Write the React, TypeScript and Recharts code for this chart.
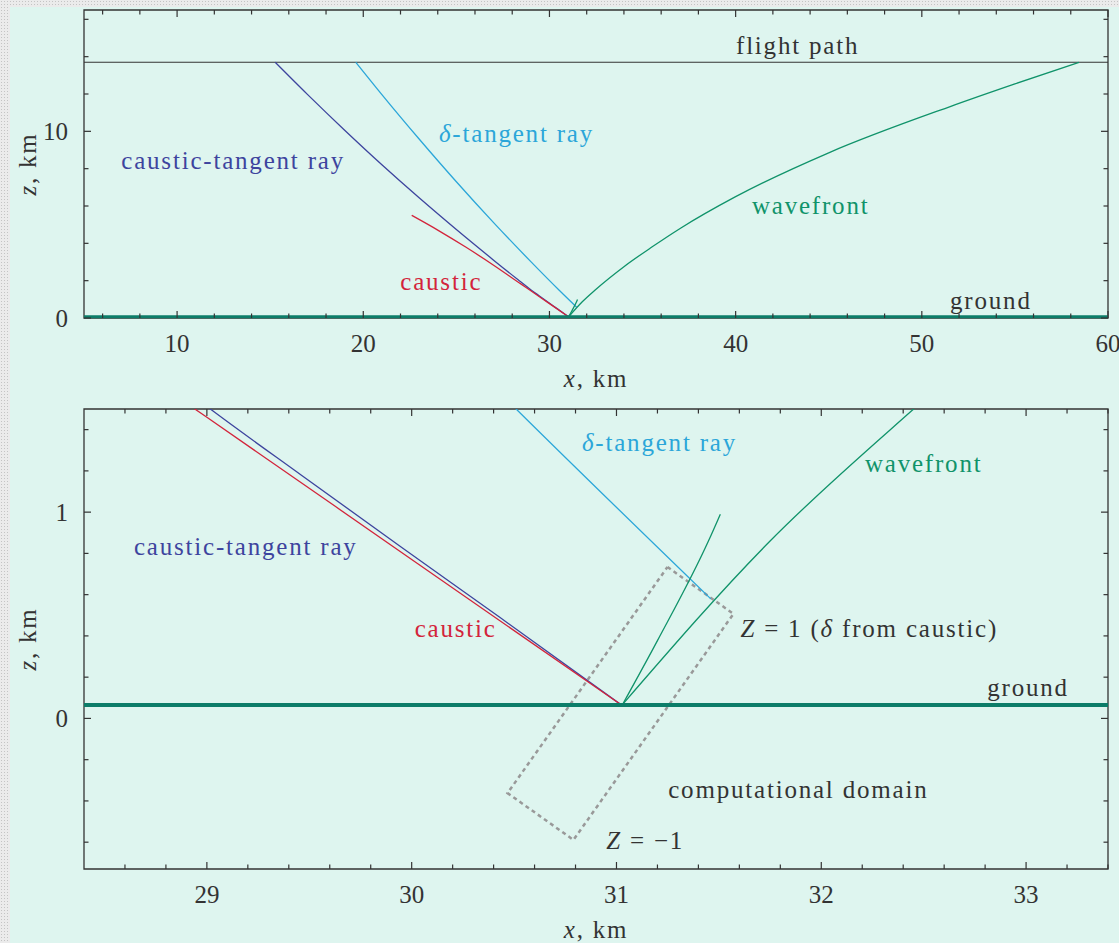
import React from "react";
import {
  ComposedChart,
  Line,
  XAxis,
  YAxis,
  ReferenceLine,
  ReferenceArea,
  ReferenceDot,
  Label,
} from "recharts";

type Pt = { x: number; z: number };

// curves, x and z in km
const causticTangentRay: Pt[] = [
  { x: 15.27, z: 13.7 },
  { x: 17, z: 11.98 },
  { x: 19, z: 10.06 },
  { x: 21, z: 8.21 },
  { x: 23, z: 6.44 },
  { x: 25, z: 4.74 },
  { x: 27, z: 3.1 },
  { x: 28.3, z: 2.06 },
  { x: 29.03, z: 1.49 },
  { x: 29.46, z: 1.18 },
  { x: 29.95, z: 0.83 },
  { x: 30.43, z: 0.49 },
  { x: 31.02, z: 0.068 },
];

const deltaTangentRay: Pt[] = [
  { x: 19.6, z: 13.7 },
  { x: 21, z: 11.97 },
  { x: 23, z: 9.59 },
  { x: 25, z: 7.3 },
  { x: 27, z: 5.11 },
  { x: 29, z: 3.02 },
  { x: 30.51, z: 1.5 },
  { x: 31.46, z: 0.58 },
];

const caustic: Pt[] = [
  { x: 22.6, z: 5.5 },
  { x: 24, z: 4.71 },
  { x: 25.5, z: 3.8 },
  { x: 27, z: 2.83 },
  { x: 28.5, z: 1.8 },
  { x: 29, z: 1.46 },
  { x: 30, z: 0.77 },
  { x: 31.02, z: 0.068 },
];

const wavefront: Pt[] = [
  { x: 31.03, z: 0.068 },
  { x: 31.75, z: 0.86 },
  { x: 32.44, z: 1.49 },
  { x: 34, z: 2.75 },
  { x: 35.5, z: 3.8 },
  { x: 37.04, z: 4.81 },
  { x: 40, z: 6.5 },
  { x: 45, z: 8.85 },
  { x: 51.56, z: 11.34 },
  { x: 55, z: 12.54 },
  { x: 58.44, z: 13.7 },
];

const wavefrontFold: Pt[] = [
  { x: 31.03, z: 0.068 },
  { x: 31.2, z: 0.377 },
  { x: 31.449, z: 0.86 },
  { x: 31.507, z: 0.99 },
];

const domainBox: Pt[] = [
  { x: 31.249, z: 0.734 },
  { x: 31.571, z: 0.507 },
  { x: 30.79, z: -0.589 },
  { x: 30.468, z: -0.362 },
  { x: 31.249, z: 0.734 },
];

const flightZ = 13.7;
const groundZ = 0.065;

// ticks
const topXTicks = [6, 8, 10, 12, 14, 16, 18, 20, 22, 24, 26, 28, 30, 32, 34, 36, 38, 40, 42, 44, 46, 48, 50, 52, 54, 56, 58, 60];
const topXLabels = [10, 20, 30, 40, 50, 60];
const topZTicks = [0, 2, 4, 6, 8, 10, 12, 14, 16];
const topZLabels = [0, 10];
const botXTicks = [28.6, 28.8, 29, 29.2, 29.4, 29.6, 29.8, 30, 30.2, 30.4, 30.6, 30.8, 31, 31.2, 31.4, 31.6, 31.8, 32, 32.2, 32.4, 32.6, 32.8, 33, 33.2, 33.4];
const botXLabels = [29, 30, 31, 32, 33];
const botZTicks = [-0.6, -0.4, -0.2, 0, 0.2, 0.4, 0.6, 0.8, 1, 1.2, 1.4];
const botZLabels = [0, 1];

const INK = "#333333";
const C_CTR = "#3d449e";
const C_DTR = "#2ba6d9";
const C_CAU = "#d3243b";
const C_WAV = "#10936a";
const C_GND = "#0c7d69";
const FONT: React.CSSProperties = { fontFamily: "'Liberation Serif', 'DejaVu Serif', serif", fontSize: 25 };
const WORD: React.CSSProperties = { ...FONT, letterSpacing: 1.8 };

const W = 1119;
const PLOT_W = 1024;

const isIn = (v: number, list: number[]) => list.some((m) => Math.abs(m - v) < 1e-6);

function xTick(plotH: number, labels: number[]) {
  return (p: any) => {
    const { x, y, payload } = p;
    const major = isIn(payload.value, labels);
    const len = major ? 7 : 4.5;
    return (
      <g>
        <line x1={x} x2={x} y1={y} y2={y - len} stroke={INK} strokeWidth={1.2} />
        <line x1={x} x2={x} y1={y - plotH} y2={y - plotH + len} stroke={INK} strokeWidth={1.2} />
        {major && (
          <text x={x} y={y + 25} textAnchor="middle" dominantBaseline="central" fill={INK} style={FONT}>
            {payload.value}
          </text>
        )}
      </g>
    );
  };
}

function zTick(labels: number[]) {
  return (p: any) => {
    const { x, y, payload } = p;
    const major = isIn(payload.value, labels);
    const len = major ? 7 : 4.5;
    return (
      <g>
        <line x1={x} x2={x + len} y1={y} y2={y} stroke={INK} strokeWidth={1.2} />
        <line x1={x + PLOT_W} x2={x + PLOT_W - len} y1={y} y2={y} stroke={INK} strokeWidth={1.2} />
        {major && (
          <text x={x - 16} y={y} textAnchor="end" dominantBaseline="central" fill={INK} style={FONT}>
            {payload.value}
          </text>
        )}
      </g>
    );
  };
}

type Part = { t: string; i?: boolean };

function textShape(parts: Part[], color: string, anchor: "start" | "middle" | "end" = "middle") {
  return (p: any) => (
    <text x={p.cx} y={p.cy} textAnchor={anchor} dominantBaseline="central" fill={color} style={WORD}>
      {parts.map((s, k) => (
        <tspan key={k} fontStyle={s.i ? "italic" : undefined}>
          {s.t}
        </tspan>
      ))}
    </text>
  );
}

const XName = (p: any) => {
  const vb = p.viewBox;
  return (
    <text x={vb.x + vb.width / 2} y={vb.y + 60} textAnchor="middle" dominantBaseline="central" fill={INK} style={WORD}>
      <tspan fontStyle="italic">x</tspan>
      <tspan>, km</tspan>
    </text>
  );
};

const ZName = (p: any) => {
  const vb = p.viewBox;
  const cx = vb.x + 27;
  const cy = vb.y + vb.height / 2;
  return (
    <text x={cx} y={cy} transform={`rotate(-90, ${cx}, ${cy})`} textAnchor="middle" dominantBaseline="central" fill={INK} style={WORD}>
      <tspan fontStyle="italic">z</tspan>
      <tspan>, km</tspan>
    </text>
  );
};

function TopPanel() {
  return (
    <ComposedChart width={W} height={395} margin={{ top: 10, right: 11, bottom: 7, left: 0 }}>
      <XAxis
        type="number"
        dataKey="x"
        domain={[5, 60]}
        allowDataOverflow
        ticks={topXTicks}
        interval={0}
        tickSize={0}
        tickMargin={0}
        axisLine={false}
        tick={xTick(308, topXLabels)}
        height={70}
      >
        <Label content={XName} />
      </XAxis>
      <YAxis
        type="number"
        dataKey="z"
        domain={[0, 16.5]}
        allowDataOverflow
        ticks={topZTicks}
        interval={0}
        tickSize={0}
        tickMargin={0}
        axisLine={false}
        tick={zTick(topZLabels)}
        width={84}
      >
        <Label content={ZName} />
      </YAxis>
      <ReferenceArea x1={5} x2={60} y1={0} y2={16.5} fill="none" stroke={INK} strokeWidth={1.3} />
      <ReferenceLine y={flightZ} stroke={INK} strokeWidth={1.2} />
      <Line data={causticTangentRay} dataKey="z" type="monotone" stroke={C_CTR} strokeWidth={1.3} dot={false} isAnimationActive={false} />
      <Line data={deltaTangentRay} dataKey="z" type="monotone" stroke={C_DTR} strokeWidth={1.3} dot={false} isAnimationActive={false} />
      <Line data={caustic} dataKey="z" type="monotone" stroke={C_CAU} strokeWidth={1.3} dot={false} isAnimationActive={false} />
      <Line data={wavefront} dataKey="z" type="monotone" stroke={C_WAV} strokeWidth={1.3} dot={false} isAnimationActive={false} />
      <Line data={wavefrontFold} dataKey="z" type="monotone" stroke={C_WAV} strokeWidth={1.3} dot={false} isAnimationActive={false} />
      <ReferenceLine y={groundZ} stroke={C_GND} strokeWidth={3} />
      <ReferenceDot x={43.33} y={14.6} r={1} shape={textShape([{ t: "flight path" }], INK)} />
      <ReferenceDot x={13.01} y={8.45} r={1} shape={textShape([{ t: "caustic-tangent ray" }], C_CTR)} />
      <ReferenceDot x={28.23} y={9.89} r={1} shape={textShape([{ t: "δ", i: true }, { t: "-tangent ray" }], C_DTR)} />
      <ReferenceDot x={44.03} y={6.04} r={1} shape={textShape([{ t: "wavefront" }], C_WAV)} />
      <ReferenceDot x={24.19} y={1.98} r={1} shape={textShape([{ t: "caustic" }], C_CAU)} />
      <ReferenceDot x={53.71} y={0.96} r={1} shape={textShape([{ t: "ground" }], INK)} />
    </ComposedChart>
  );
}

function BottomPanel() {
  return (
    <ComposedChart width={W} height={548} margin={{ top: 14, right: 11, bottom: 4, left: 0 }}>
      <XAxis
        type="number"
        dataKey="x"
        domain={[28.4, 33.4]}
        allowDataOverflow
        ticks={botXTicks}
        interval={0}
        tickSize={0}
        tickMargin={0}
        axisLine={false}
        tick={xTick(460, botXLabels)}
        height={70}
      >
        <Label content={XName} />
      </XAxis>
      <YAxis
        type="number"
        dataKey="z"
        domain={[-0.73, 1.5]}
        allowDataOverflow
        ticks={botZTicks}
        interval={0}
        tickSize={0}
        tickMargin={0}
        axisLine={false}
        tick={zTick(botZLabels)}
        width={84}
      >
        <Label content={ZName} />
      </YAxis>
      <ReferenceArea x1={28.4} x2={33.4} y1={-0.73} y2={1.5} fill="none" stroke={INK} strokeWidth={1.3} />
      <Line data={domainBox} dataKey="z" type="linear" stroke="#999999" strokeWidth={2.5} strokeDasharray="4 3.5" dot={false} isAnimationActive={false} />
      <Line data={causticTangentRay} dataKey="z" type="monotone" stroke={C_CTR} strokeWidth={1.3} dot={false} isAnimationActive={false} />
      <Line data={deltaTangentRay} dataKey="z" type="monotone" stroke={C_DTR} strokeWidth={1.3} dot={false} isAnimationActive={false} />
      <Line data={caustic} dataKey="z" type="monotone" stroke={C_CAU} strokeWidth={1.3} dot={false} isAnimationActive={false} />
      <Line data={wavefront} dataKey="z" type="monotone" stroke={C_WAV} strokeWidth={1.3} dot={false} isAnimationActive={false} />
      <Line data={wavefrontFold} dataKey="z" type="monotone" stroke={C_WAV} strokeWidth={1.3} dot={false} isAnimationActive={false} />
      <ReferenceLine y={groundZ} stroke={C_GND} strokeWidth={4} />
      <ReferenceDot x={31.21} y={1.338} r={1} shape={textShape([{ t: "δ", i: true }, { t: "-tangent ray" }], C_DTR)} />
      <ReferenceDot x={32.5} y={1.24} r={1} shape={textShape([{ t: "wavefront" }], C_WAV)} />
      <ReferenceDot x={29.19} y={0.836} r={1} shape={textShape([{ t: "caustic-tangent ray" }], C_CTR)} />
      <ReferenceDot x={30.215} y={0.44} r={1} shape={textShape([{ t: "caustic" }], C_CAU)} />
      <ReferenceDot
        x={31.605}
        y={0.44}
        r={1}
        shape={textShape([{ t: "Z", i: true }, { t: " = 1 (" }, { t: "δ", i: true }, { t: " from caustic)" }], INK, "start")}
      />
      <ReferenceDot x={33.01} y={0.15} r={1} shape={textShape([{ t: "ground" }], INK)} />
      <ReferenceDot x={31.888} y={-0.343} r={1} shape={textShape([{ t: "computational domain" }], INK)} />
      <ReferenceDot x={31.14} y={-0.589} r={1} shape={textShape([{ t: "Z", i: true }, { t: " = −1" }], INK)} />
    </ComposedChart>
  );
}

export default function App() {
  return (
    <div
      style={{
        position: "relative",
        width: W,
        height: 943,
        overflow: "hidden",
        backgroundColor: "#ebebeb",
        backgroundImage: "radial-gradient(#c4c4c4 0.7px, transparent 0.9px)",
        backgroundSize: "3px 3px",
      }}
    >
      <style>{"body{margin:0}"}</style>
      <div style={{ position: "absolute", left: 10, top: 7, right: 0, bottom: 0, background: "#def5ef" }} />
      <div style={{ position: "absolute", left: 0, top: 0 }}>
        <TopPanel />
      </div>
      <div style={{ position: "absolute", left: 0, top: 395 }}>
        <BottomPanel />
      </div>
    </div>
  );
}
